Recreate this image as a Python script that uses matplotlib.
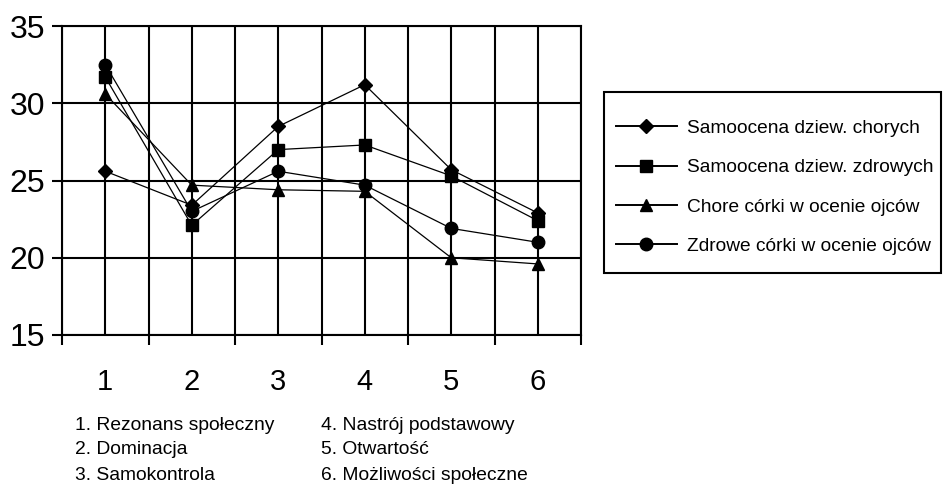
#!/usr/bin/env python3
"""
Line chart: self-assessment vs fathers' assessment of daughters (6 scales).
"""

import matplotlib
matplotlib.use('Agg')
import matplotlib.pyplot as plt
import matplotlib.patches as mpatches
from matplotlib.ticker import MultipleLocator, FixedLocator

plt.rcParams.update({
    'font.family': ['Liberation Sans', 'DejaVu Sans'],
    'font.size': 12,
})

# data
categories = [1, 2, 3, 4, 5, 6]
series_names = [
    'Samoocena dziew. chorych',
    'Samoocena dziew. zdrowych',
    'Chore córki w ocenie ojców',
    'Zdrowe córki w ocenie ojców',
]
chore_samo = [25.6, 23.4, 28.5, 31.2, 25.7, 22.9]
zdrowe_samo = [31.7, 22.1, 27.0, 27.3, 25.3, 22.4]
chore_ojcowie = [30.6, 24.7, 24.4, 24.3, 20.0, 19.6]
zdrowe_ojcowie = [32.5, 23.0, 25.6, 24.7, 21.9, 21.0]
y_ticks = [15, 20, 25, 30, 35]
scale_notes_left = ['1. Rezonans społeczny', '2. Dominacja', '3. Samokontrola']
scale_notes_right = ['4. Nastrój podstawowy', '5. Otwartość', '6. Możliwości społeczne']

W, H = 946, 488
fig = plt.figure(figsize=(W / 100, H / 100), dpi=100)
ax = fig.add_axes([62 / W, 1 - 335 / H, (581 - 62) / W, (335 - 26) / H])

styles = [('D', 7.5), ('s', 8), ('^', 8.5), ('o', 9)]
all_series = [chore_samo, zdrowe_samo, chore_ojcowie, zdrowe_ojcowie]
for vals, name, (mk, ms) in zip(all_series, series_names, styles):
    ax.plot(categories, vals, color='black', lw=0.9, marker=mk, markersize=ms,
            label=name, zorder=3)

ax.set_xlim(0.5, 6.5)
ax.set_ylim(15, 35)

# integer positions carry labels only, half positions carry ticks
ax.xaxis.set_major_locator(FixedLocator(categories))
ax.xaxis.set_minor_locator(MultipleLocator(0.5))
ax.set_yticks(y_ticks)
ax.tick_params(axis='x', which='major', length=0, pad=24, labelsize=21)
ax.tick_params(axis='x', which='minor', length=7, width=1.5, direction='out')
ax.tick_params(axis='y', length=7, width=1.5, direction='out', pad=5,
               labelsize=23)

ax.grid(True, which='both', axis='x', color='black', lw=1.5)
ax.grid(True, which='major', axis='y', color='black', lw=1.5)
for sp in ax.spines.values():
    sp.set_linewidth(1.5)

# legend box drawn separately so its padding can match the original
fig.patches.append(mpatches.Rectangle((604 / W, 1 - 273 / H), 337 / W, 181 / H,
                                      transform=fig.transFigure, fill=False,
                                      edgecolor='black', lw=1.5))
leg = fig.legend(loc='upper left', bbox_to_anchor=(606 / W, 1 - 110 / H),
                 frameon=False, borderpad=0, handlelength=3.2, handletextpad=0.5,
                 labelspacing=1.14, fontsize=13.8)
for h in leg.get_lines():
    h.set_linewidth(1.4)

for i, txt in enumerate(scale_notes_left):
    fig.text(75 / W, 1 - (425 + i * 25) / H, txt, fontsize=13.9, va='center')
for i, txt in enumerate(scale_notes_right):
    fig.text(321 / W, 1 - (425 + i * 25) / H, txt, fontsize=13.9, va='center')

fig.savefig('out.png', dpi=100)
